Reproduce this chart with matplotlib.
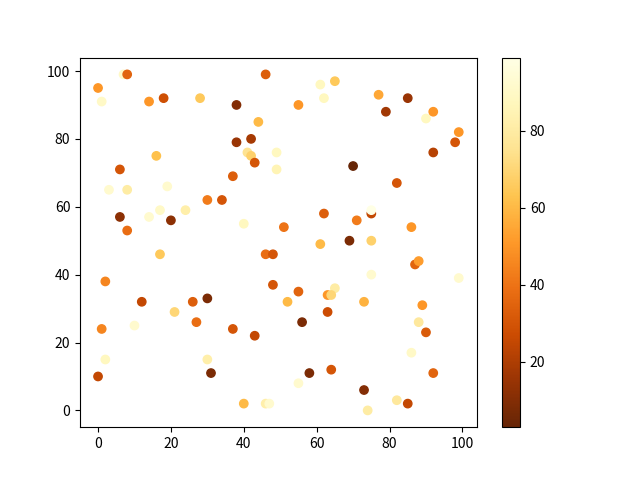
import matplotlib
matplotlib.use("Agg")
import matplotlib.pyplot as plt
import numpy as np

plt.rcParams['font.family'] = ['Noto Sans CJK SC', 'DejaVu Sans']

# x, y positions and colour values
x = [0, 1, 7, 8, 14, 18, 28, 38, 44, 46,
     55, 61, 65, 62, 77, 79, 85, 90, 92, 99,
     98, 92, 38, 42, 41, 42, 43, 49, 49, 37,
     16, 6, 3, 8, 19, 30, 34, 24, 17, 14,
     6, 20, 8, 40, 51, 70, 82, 62, 75, 75,
     71, 86, 61, 69, 75, 17, 46, 48, 48, 2,
     12, 26, 30, 21, 27, 10, 1, 37, 43, 2,
     30, 0, 31, 40, 46, 47, 87, 88, 75, 99,
     55, 65, 63, 64, 52, 73, 89, 88, 63, 56,
     90, 86, 58, 64, 92, 55, 73, 82, 85, 74]
y = [95, 91, 99, 99, 91, 92, 92, 90, 85, 99,
     90, 96, 97, 92, 93, 88, 92, 86, 88, 82,
     79, 76, 79, 80, 76, 75, 73, 76, 71, 69,
     75, 71, 65, 65, 66, 62, 62, 59, 59, 57,
     57, 56, 53, 55, 54, 72, 67, 58, 58, 59,
     56, 54, 49, 50, 50, 46, 46, 46, 37, 38,
     32, 32, 33, 29, 26, 25, 24, 24, 22, 15,
     15, 10, 11, 2, 2, 2, 43, 44, 40, 39,
     35, 36, 34, 34, 32, 32, 31, 26, 29, 26,
     23, 17, 11, 12, 11, 8, 6, 3, 2, 0]
c = [50, 90, 90, 35, 50, 28, 65, 10, 60, 33,
     50, 88, 65, 88, 55, 17, 15, 88, 50, 50,
     30, 22, 15, 18, 75, 68, 30, 88, 85, 33,
     62, 30, 92, 80, 92, 42, 30, 82, 90, 92,
     12, 12, 38, 88, 40, 3, 30, 33, 25, 99,
     42, 50, 60, 8, 68, 65, 38, 30, 30, 45,
     25, 33, 8, 70, 38, 92, 45, 30, 25, 88,
     82, 25, 8, 60, 82, 92, 35, 52, 92, 92,
     35, 80, 50, 70, 60, 58, 50, 78, 27, 8,
     32, 90, 8, 30, 35, 92, 10, 78, 25, 80]

fig, ax = plt.subplots(figsize=(6.4, 4.8), dpi=100)
sc = ax.scatter(x, y, c=c, cmap='YlOrBr_r')
fig.colorbar(sc)
fig.savefig('out.png')
